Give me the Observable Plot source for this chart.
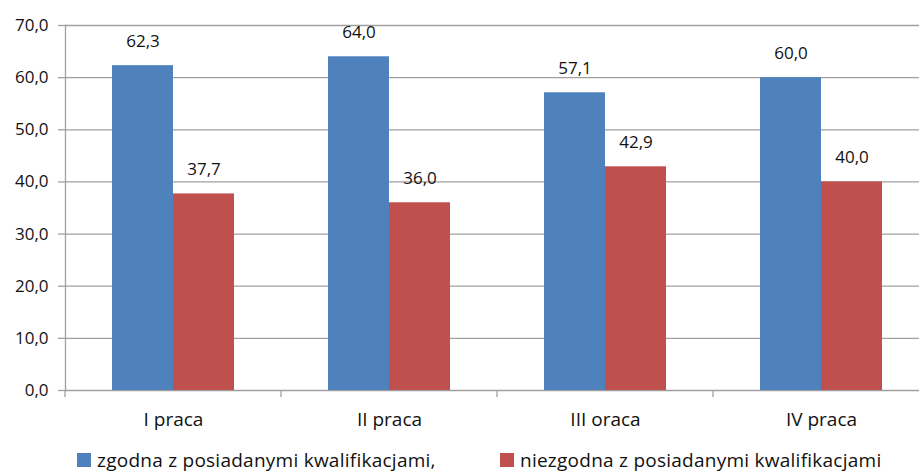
<!DOCTYPE html>
<html><head><meta charset="utf-8">
<script src="https://cdn.jsdelivr.net/npm/d3@7"></script>
<script src="https://cdn.jsdelivr.net/npm/@observablehq/plot@0.6"></script>
<style>
html,body{margin:0;padding:0;background:#fff;overflow:hidden;width:919px;height:472px;}
#chart svg{max-width:none !important;display:block;}
#legend{position:relative;height:32px;font-family:'Open Sans',sans-serif;font-size:19px;letter-spacing:0.25px;color:#111;}
#legend .item{position:absolute;top:7px;display:flex;align-items:center;white-space:nowrap;}
#legend .sw{width:14px;height:14px;margin-right:6px;}
</style></head><body><div id="chart"></div><div id="legend"></div><script>
const categories = ["I praca", "II praca", "III oraca", "IV praca"];
const seriesNames = ["zgodna z posiadanymi kwalifikacjami,", "niezgodna z posiadanymi kwalifikacjami"];
const zgodna = [62.3, 64.0, 57.1, 60.0];
const niezgodna = [37.7, 36.0, 42.9, 40.0];
const yTicks = [0, 10, 20, 30, 40, 50, 60, 70];
const colors = ["#4F81BD", "#C0504D"];

const data = categories.flatMap((c, i) => [
  {cat: c, series: seriesNames[0], value: zgodna[i]},
  {cat: c, series: seriesNames[1], value: niezgodna[i]}
]);
const fmt = v => v.toFixed(1).replace(".", ",");
const font = "'Open Sans', sans-serif";
const gridColor = "#a0a0a0";

// small tick mark below the x axis at each category boundary (drawn per facet)
const boundaryTick = (index, scales, values, dims) => {
  const y0 = scales.y(0);
  return d3.create("svg:line")
    .attr("x1", dims.marginLeft).attr("x2", dims.marginLeft)
    .attr("y1", y0).attr("y2", y0 + 7)
    .attr("stroke", gridColor).attr("stroke-width", 1.3).node();
};

const chart = Plot.plot({
  width: 929, height: 440,
  marginLeft: 65, marginRight: 0, marginTop: 25, marginBottom: 50,
  style: {fontFamily: font, fontSize: "17px", color: "#111", background: "#fff"},
  fx: {domain: categories, padding: 0, label: null, axis: null},
  x: {domain: seriesNames, axis: null, paddingInner: 0, paddingOuter: 0.742},
  y: {domain: [0, 70], axis: null},
  color: {domain: seriesNames, range: colors},
  marks: [
    Plot.ruleY(yTicks, {stroke: gridColor, strokeWidth: 1.3}),
    Plot.frame({anchor: "left", facetAnchor: "left", stroke: gridColor, strokeWidth: 1.3}),
    Plot.barY(data, {fx: "cat", x: "series", y: "value", fill: "series"}),
    Plot.text(data, {fx: "cat", x: "series", y: "value", text: d => fmt(d.value), dy: -24, fontSize: 17, fill: "#111"}),
    boundaryTick,
    Plot.axisY(yTicks, {tickFormat: fmt, tickSize: 7, tickPadding: 10, stroke: gridColor, strokeWidth: 1.3, fill: "#111", fontSize: 17, label: null}),
    Plot.axisFx({anchor: "bottom", tickSize: 0, tickPadding: 22, fontSize: 19, fill: "#111", label: null, style: {letterSpacing: "0.3px"}})
  ]
});
document.getElementById("chart").append(chart);

const legend = d3.select("#legend");
const lefts = [77, 500];
seriesNames.forEach((s, i) => {
  const it = legend.append("div").attr("class", "item").style("left", lefts[i] + "px");
  it.append("div").attr("class", "sw").style("background", colors[i]);
  it.append("span").text(s);
});
</script></body></html>
